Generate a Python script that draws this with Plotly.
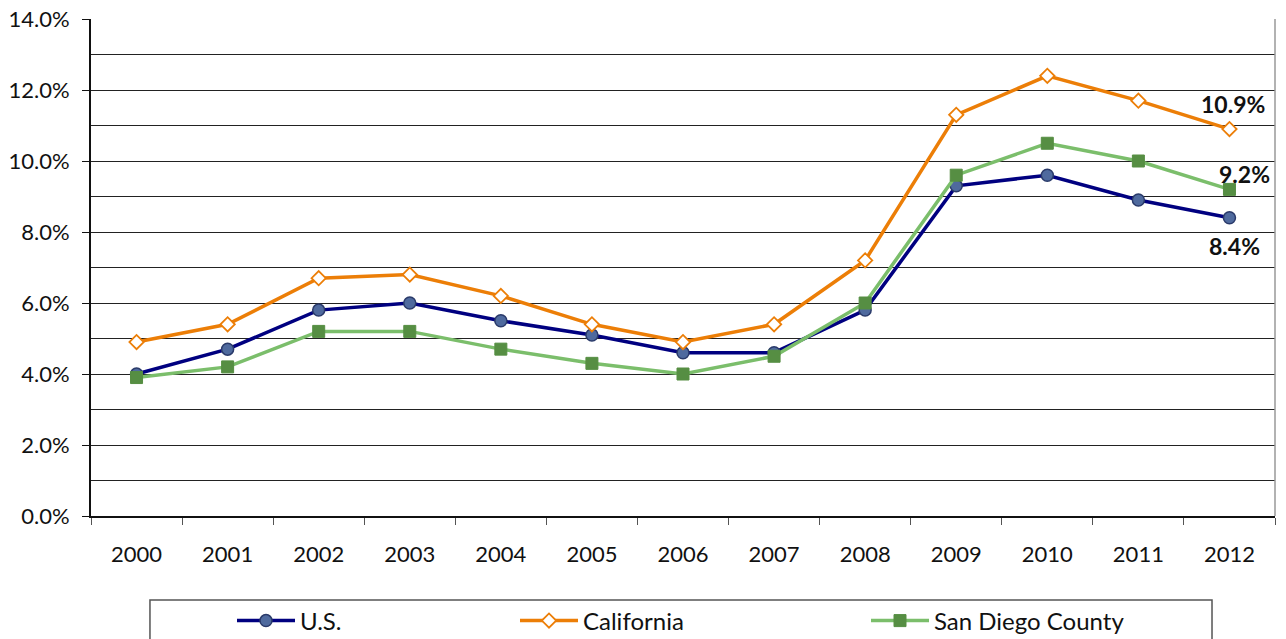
import plotly.graph_objects as go

years = ["2000", "2001", "2002", "2003", "2004", "2005", "2006",
         "2007", "2008", "2009", "2010", "2011", "2012"]
us = [4.0, 4.7, 5.8, 6.0, 5.5, 5.1, 4.6, 4.6, 5.8, 9.3, 9.6, 8.9, 8.4]
california = [4.9, 5.4, 6.7, 6.8, 6.2, 5.4, 4.9, 5.4, 7.2, 11.3, 12.4, 11.7, 10.9]
san_diego = [3.9, 4.2, 5.2, 5.2, 4.7, 4.3, 4.0, 4.5, 6.0, 9.6, 10.5, 10.0, 9.2]
y_ticks = [0, 2, 4, 6, 8, 10, 12, 14]
y_tick_labels = ["0.0%", "2.0%", "4.0%", "6.0%", "8.0%", "10.0%", "12.0%", "14.0%"]

FONT = "Lato, 'DejaVu Sans', sans-serif"

fig = go.Figure()

fig.add_trace(go.Scatter(
    x=years, y=us, name="U.S.", mode="lines+markers", legend="legend2",
    line=dict(color="#000080", width=3.5),
    marker=dict(symbol="circle", size=12, color="#4F6A9E",
                line=dict(color="#2A3A6A", width=1.5)),
))
fig.add_trace(go.Scatter(
    x=years, y=california, name="California", mode="lines+markers", legend="legend3",
    line=dict(color="#EC7E07", width=3.5),
    marker=dict(symbol="diamond", size=11, color="#FFFFFF",
                line=dict(color="#EC7E07", width=1.8)),
))
fig.add_trace(go.Scatter(
    x=years, y=san_diego, name="San Diego County", mode="lines+markers", legend="legend4",
    line=dict(color="#7BBE6B", width=3.5),
    marker=dict(symbol="square", size=12, color="#568E43",
                line=dict(color="#568E43", width=1)),
))

last = len(years) - 1
label_font = dict(family=FONT, size=23, color="#111111")
fig.add_annotation(x=last, y=california[last], text="<b>%.1f%%</b>" % california[last],
                   showarrow=False, xshift=4, yshift=25, font=label_font)
fig.add_annotation(x=last, y=san_diego[last], text="<b>%.1f%%</b>" % san_diego[last],
                   showarrow=False, xshift=15, yshift=15, font=label_font)
fig.add_annotation(x=last, y=us[last], text="<b>%.1f%%</b>" % us[last],
                   showarrow=False, xshift=5, yshift=-28, font=label_font)

# legend frame
fig.add_shape(type="rect", xref="paper", yref="paper",
              x0=0.0498, x1=0.9468, y0=-0.169, y1=-0.30,
              line=dict(color="#555555", width=1.5), fillcolor="rgba(0,0,0,0)")
# right border
fig.add_shape(type="line", xref="paper", yref="paper", x0=1, x1=1, y0=0, y1=1,
              line=dict(color="#999999", width=1.5))

leg_common = dict(orientation="h", yref="paper", y=-0.166, yanchor="top",
                  bgcolor="rgba(0,0,0,0)", borderwidth=0, itemwidth=58,
                  font=dict(family=FONT, size=24, color="#111111"))

fig.update_layout(
    width=1286, height=639,
    margin=dict(l=91, r=11, t=19, b=123, autoexpand=False),
    paper_bgcolor="white", plot_bgcolor="white",
    font=dict(family=FONT, size=22, color="#111111"),
    showlegend=True,
    legend2=dict(x=(232 - 91) / 1184, xanchor="left", **leg_common),
    legend3=dict(x=(515 - 91) / 1184, xanchor="left", **leg_common),
    legend4=dict(x=(866 - 91) / 1184, xanchor="left", **leg_common),
    xaxis=dict(
        type="category", showgrid=False, showline=True, linecolor="#111111", linewidth=1.5,
        ticks="outside", tickson="boundaries", ticklen=7, tickcolor="#555555",
        tickfont=dict(family=FONT, size=22, color="#111111"),
        ticklabelstandoff=18, automargin=False,
        range=[-0.5, 12.5],
    ),
    yaxis=dict(
        range=[0, 14], tickvals=y_ticks, ticktext=y_tick_labels,
        showgrid=True, gridcolor="#222222", gridwidth=1,
        showline=True, linecolor="#111111", linewidth=2,
        ticks="outside", ticklen=7, tickcolor="#111111",
        tickfont=dict(family=FONT, size=22, color="#111111"),
        ticklabelstandoff=8, automargin=False, ticklabeloverflow="allow",
        zeroline=False,
        minor=dict(dtick=1, showgrid=True, gridcolor="#222222", gridwidth=1, ticks=""),
    ),
)

fig.write_html("out.html", config={"displayModeBar": False},
               post_script="document.body.style.margin='0';")
